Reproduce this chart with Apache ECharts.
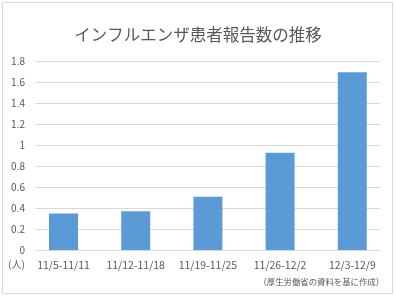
<!DOCTYPE html>
<html>
<head>
<meta charset="utf-8">
<script src="https://cdn.jsdelivr.net/npm/echarts@6/dist/echarts.min.js"></script>
<style>html,body{margin:0;padding:0;background:#fff}#c{width:396px;height:296px}</style>
</head>
<body>
<div id="c"></div>
<script>
const categories = ['11/5-11/11', '11/12-11/18', '11/19-11/25', '11/26-12/2', '12/3-12/9'];
const values = [0.35, 0.37, 0.51, 0.93, 1.70];
const yTicks = [0, 0.2, 0.4, 0.6, 0.8, 1, 1.2, 1.4, 1.6, 1.8];
const titleText = 'インフルエンザ患者報告数の推移';
const unitText = '(人)';
const sourceText = '（厚生労働省の資料を基に作成）';

const FONT = '"Noto Sans CJK JP", "Noto Sans", sans-serif';
const TXT = '#595959';
const chart = echarts.init(document.getElementById('c'), null, {renderer: 'canvas'});
chart.setOption({
  animation: false,
  backgroundColor: '#fff',
  title: {
    text: titleText, left: 'center', top: 21,
    textStyle: {fontFamily: FONT, fontSize: 16.5, fontWeight: 'normal', color: TXT}
  },
  grid: [
    {left: 35, right: 16, top: 61.7, bottom: 46, containLabel: false},
    {left: 27.4, right: 7.6, top: 61.7, bottom: 46, containLabel: false}
  ],
  xAxis: [
    {gridIndex: 0, type: 'category', data: categories, show: true,
     axisLine: {show: true, lineStyle: {color: '#d9d9d9', width: 1}},
     axisTick: {show: false}, axisLabel: {show: false}},
    {gridIndex: 1, type: 'category', data: categories,
     axisLine: {show: false}, axisTick: {show: false},
     axisLabel: {fontFamily: FONT, fontSize: 10.5, color: TXT, margin: 10, interval: 0}}
  ],
  yAxis: [
    {gridIndex: 0, type: 'value', min: 0, max: 1.8, interval: 0.2,
     axisLine: {show: false}, axisTick: {show: false},
     splitLine: {lineStyle: {color: '#d9d9d9', width: 1}},
     axisLabel: {fontFamily: FONT, fontSize: 10, color: TXT, margin: 10,
       formatter: v => { const t = yTicks.find(x => Math.abs(x - v) < 1e-6); return t === undefined ? '' : String(t); }}},
    {gridIndex: 1, type: 'value', min: 0, max: 1.8, interval: 0.2, show: false,
     splitLine: {show: false}}
  ],
  series: [{
    type: 'bar', xAxisIndex: 1, yAxisIndex: 1, data: values, barWidth: 29,
    itemStyle: {color: '#5B9BD5'}
  }],
  graphic: [
    {type: 'rect', shape: {x: 2.5, y: 2.5, width: 390, height: 291},
     style: {fill: 'none', stroke: '#d9d9d9', lineWidth: 1}, silent: true, z: -1},
    {type: 'text', left: 8, top: 259,
     style: {text: unitText, font: '10px ' + FONT, fill: TXT}},
    {type: 'text', right: 12, top: 278,
     style: {text: sourceText, font: '8.4px ' + FONT, fill: TXT}}
  ]
});
</script>
</body>
</html>
